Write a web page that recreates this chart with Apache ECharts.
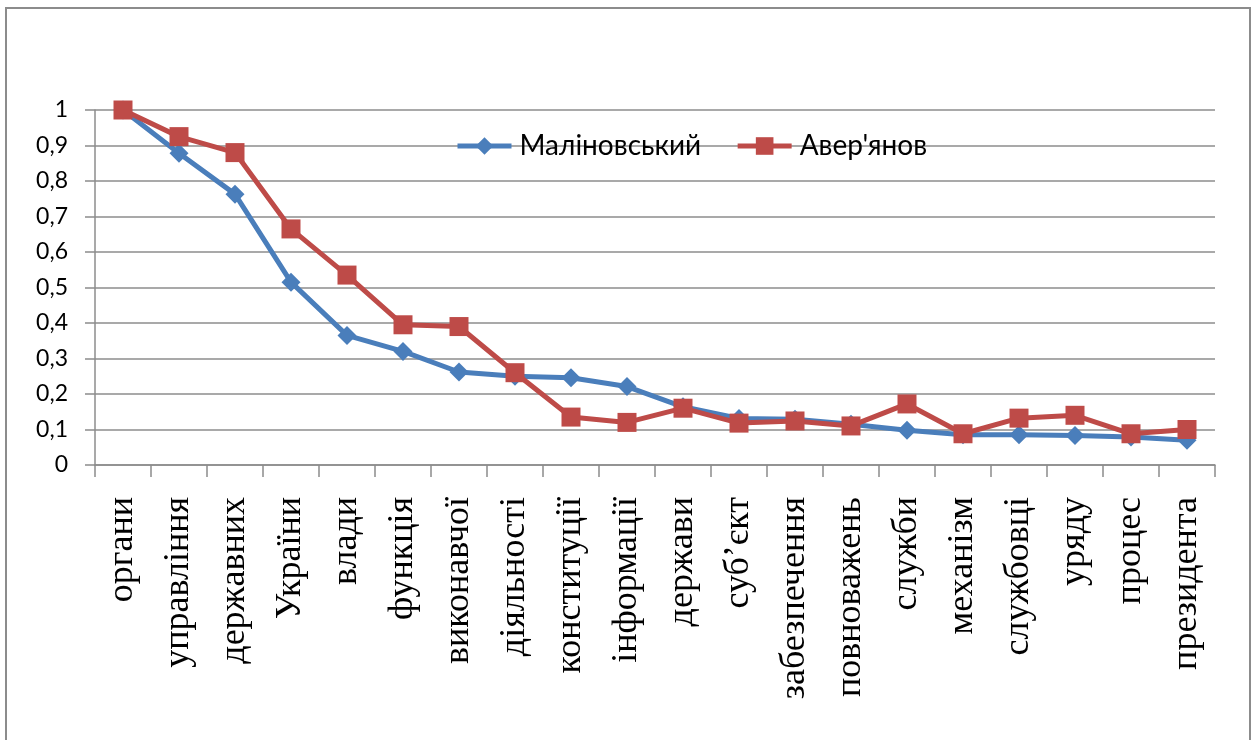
<!DOCTYPE html>
<html><head><meta charset="utf-8">
<script src="https://cdn.jsdelivr.net/npm/echarts@6/dist/echarts.min.js"></script>
<style>html,body{margin:0;padding:0;background:#fff}#c{width:1256px;height:740px}</style>
</head><body><div id="c"></div>
<script>
const categories = ['органи','управління','державних','України','влади','функція','виконавчої','діяльності','конституції','інформації','держави','суб\u2019єкт','забезпечення','повноважень','служби','механізм','службовці','уряду','процес','президента'];
const malinovskyi = [1.0,0.878,0.763,0.515,0.365,0.32,0.262,0.25,0.246,0.221,0.164,0.131,0.129,0.115,0.098,0.085,0.085,0.083,0.079,0.07];
const averyanov = [1.0,0.925,0.88,0.665,0.535,0.395,0.39,0.26,0.135,0.12,0.16,0.118,0.124,0.11,0.172,0.088,0.132,0.14,0.088,0.1];
const yTickLabels = ['0','0,1','0,2','0,3','0,4','0,5','0,6','0,7','0,8','0,9','1'];

const chart = echarts.init(document.getElementById('c'));
chart.setOption({
  animation:false,
  graphic:[{type:'rect',shape:{x:6,y:8,width:1244,height:740},style:{fill:'none',stroke:'#8c8c8c',lineWidth:2},silent:true}],
  grid:{left:95,right:41,top:110,bottom:275,containLabel:false},
  legend:{left:450,top:127,itemWidth:54,itemHeight:22,itemGap:34,
    lineStyle:{width:5},
    textStyle:{fontFamily:'Lato',fontSize:28,color:'#000',padding:[0,0,0,3]},
    data:['Маліновський','Авер\'янов']},
  xAxis:{type:'category',data:categories,boundaryGap:true,
    axisLine:{lineStyle:{color:'#8c8c8c',width:1.5}},
    axisTick:{show:true,length:12,interval:0,lineStyle:{color:'#8c8c8c',width:1.5}},
    axisLabel:{rotate:90,interval:0,margin:32,fontFamily:'Liberation Serif',fontSize:36,color:'#000'},
    splitLine:{show:false}},
  yAxis:{type:'value',min:0,max:1,interval:0.1,
    axisLine:{show:true,lineStyle:{color:'#8c8c8c',width:1.5}},
    axisTick:{show:true,inside:false,length:10,lineStyle:{color:'#8c8c8c',width:1.5}},
    axisLabel:{margin:27,fontFamily:'Lato',fontSize:23,color:'#000',
      formatter:v=>yTickLabels[Math.round(v*10)]},
    splitLine:{lineStyle:{color:'#8c8c8c',width:1.5}}},
  series:[
    {name:'Маліновський',type:'line',data:malinovskyi,symbol:'diamond',symbolSize:19,
      lineStyle:{color:'#4a7ebb',width:5},itemStyle:{color:'#4a7ebb'},z:2},
    {name:'Авер\'янов',type:'line',data:averyanov,symbol:'rect',symbolSize:19,
      lineStyle:{color:'#be4b48',width:5},itemStyle:{color:'#be4b48'},z:3}
  ]
});
</script></body></html>
